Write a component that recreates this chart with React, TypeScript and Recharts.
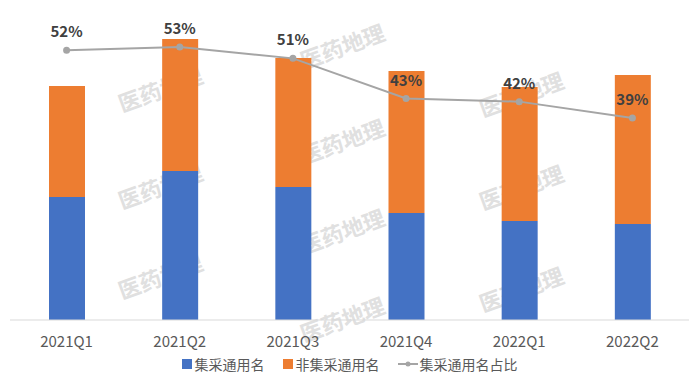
import React from 'react';
import { ComposedChart, Bar, Line, XAxis, YAxis, Legend, LabelList } from 'recharts';

const categories = ['2021Q1', '2021Q2', '2021Q3', '2021Q4', '2022Q1', '2022Q2'];
const jicai = [123, 149, 133, 107, 99, 96];
const feiJicai = [111, 132, 129, 142, 134, 149];
const ratio = [52.4, 53.0, 50.8, 43.0, 42.4, 39.2];

const data = categories.map((c, i) => ({
  name: c,
  jicai: jicai[i],
  feiJicai: feiJicai[i],
  ratio: ratio[i],
}));

const FONT = '"Noto Sans CJK SC", "Noto Sans", sans-serif';

const watermarks = [
  { x: 160, y: 88 }, { x: 160, y: 185 }, { x: 160, y: 275 },
  { x: 342, y: 45 }, { x: 342, y: 140 }, { x: 342, y: 230 }, { x: 342, y: 318 },
  { x: 521, y: 93 }, { x: 521, y: 186 }, { x: 521, y: 288 },
];

const LegendContent = () => (
  <div style={{ height: 28, display: 'flex', justifyContent: 'center', alignItems: 'center', fontFamily: FONT, fontSize: 14, color: '#595959' }}>
    <span style={{ display: 'inline-block', width: 10, height: 10, background: '#4472C4', marginRight: 3 }} />
    <span style={{ marginRight: 18 }}>集采通用名</span>
    <span style={{ display: 'inline-block', width: 10, height: 10, background: '#ED7D31', marginRight: 3 }} />
    <span style={{ marginRight: 18 }}>非集采通用名</span>
    <svg width={20} height={10} style={{ marginRight: 2 }}>
      <line x1={0} y1={5} x2={20} y2={5} stroke="#A5A5A5" strokeWidth={2} />
      <circle cx={10} cy={5} r={2.5} fill="#A5A5A5" />
    </svg>
    <span>集采通用名占比</span>
  </div>
);

export default function App() {
  return (
    <div style={{ position: 'absolute', left: 0, top: 0, width: 700, height: 383, background: '#fff' }}>
      <div style={{ position: 'absolute', left: 0, top: 0, width: 700, height: 383 }}>
        {watermarks.map((w, i) => (
          <span key={i} style={{ position: 'absolute', left: w.x - 50, top: w.y - 15, width: 100, height: 30, lineHeight: '30px', textAlign: 'center', transform: 'rotate(-20deg)', fontFamily: FONT, fontWeight: 700, fontSize: 22, color: '#e0e0e0' }}>医药地理</span>
        ))}
      </div>
      <div style={{ position: 'absolute', left: 0, top: 0 }}>
        <ComposedChart width={700} height={383} data={data} margin={{ top: 20, right: 11, left: 10, bottom: 5 }} style={{ fontFamily: FONT }}>
          <XAxis dataKey="name" axisLine={{ stroke: '#D9D9D9' }} tickLine={false} height={30} tickMargin={10} tick={{ fill: '#595959', fontSize: 15 }} />
          <YAxis yAxisId="left" hide domain={[0, 300]} />
          <YAxis yAxisId="right" orientation="right" hide domain={[0, 58.25]} />
          <Legend verticalAlign="bottom" content={<LegendContent />} />
          <Bar yAxisId="left" dataKey="jicai" stackId="a" fill="#4472C4" barSize={36} isAnimationActive={false} />
          <Bar yAxisId="left" dataKey="feiJicai" stackId="a" fill="#ED7D31" barSize={36} isAnimationActive={false} />
          <Line yAxisId="right" dataKey="ratio" stroke="#A5A5A5" strokeWidth={2} dot={{ r: 2.5, fill: '#A5A5A5', stroke: '#A5A5A5' }} isAnimationActive={false}>
            <LabelList dataKey="ratio" position="top" offset={13} formatter={(v: number) => `${Math.round(v)}%`} style={{ fill: '#404040', fontSize: 15, fontWeight: 700, fontFamily: FONT }} />
          </Line>
        </ComposedChart>
      </div>
    </div>
  );
}
